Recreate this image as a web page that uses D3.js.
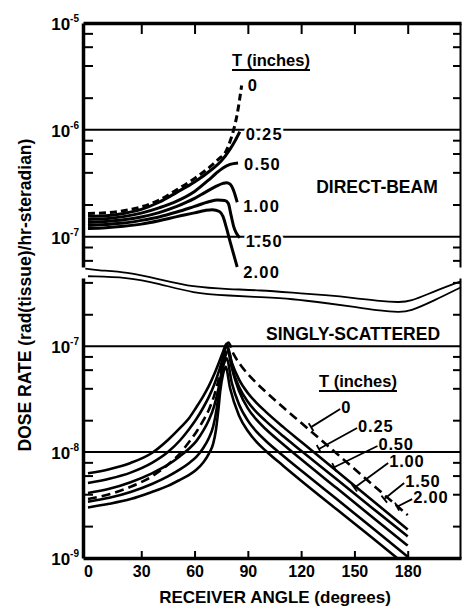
<!DOCTYPE html>
<html>
<head>
<meta charset="utf-8">
<script src="https://cdn.jsdelivr.net/npm/d3@7"></script>
<style>
  body { margin: 0; background: #fff; }
  svg { display: block; font-family: "Liberation Sans", Arial, sans-serif; font-weight: bold; }
</style>
</head>
<body>
<script>
// shield thicknesses, same order for both families of curves
const thickness = ["0", "0.25", "0.50", "1.00", "1.50", "2.00"];
const xTicks = [0, 30, 60, 90, 120, 150, 180];

// direct-beam dose rate, [receiver angle, rad/hr-sr]
const direct_0 = [[0, 1.65e-7], [10, 1.67e-7], [20, 1.75e-7], [30, 1.9e-7], [40, 2.2e-7], [50, 2.75e-7], [60, 3.5e-7], [70, 4.7e-7], [74, 5.4e-7], [77, 6.0e-7], [80, 7.8e-7], [82, 1.0e-6], [84, 1.4e-6], [86.5, 2.6e-6]];
const direct_025 = [[0, 1.55e-7], [10, 1.57e-7], [20, 1.65e-7], [30, 1.8e-7], [40, 2.1e-7], [50, 2.6e-7], [60, 3.25e-7], [70, 4.3e-7], [75, 5.1e-7], [80, 6.6e-7], [83, 8.0e-7], [85.5, 9.6e-7]];
const direct_050 = [[0, 1.45e-7], [10, 1.47e-7], [20, 1.54e-7], [30, 1.66e-7], [40, 1.86e-7], [50, 2.15e-7], [60, 2.65e-7], [68, 3.4e-7], [72, 3.9e-7], [76, 4.4e-7], [80, 4.75e-7], [84.5, 4.9e-7]];
const direct_100 = [[0, 1.36e-7], [10, 1.39e-7], [20, 1.44e-7], [30, 1.53e-7], [40, 1.68e-7], [50, 1.92e-7], [60, 2.28e-7], [66, 2.6e-7], [72, 2.95e-7], [76, 3.15e-7], [78, 3.2e-7], [80, 3.1e-7], [82, 2.7e-7], [84, 2.1e-7]];
const direct_150 = [[0, 1.27e-7], [10, 1.3e-7], [20, 1.34e-7], [30, 1.42e-7], [40, 1.53e-7], [50, 1.7e-7], [60, 1.92e-7], [68, 2.12e-7], [73, 2.2e-7], [77, 2.18e-7], [79, 2.05e-7], [80.5, 1.6e-7], [82, 1.25e-7], [85.5, 9.8e-8]];
const direct_200 = [[0, 1.19e-7], [10, 1.21e-7], [20, 1.25e-7], [30, 1.31e-7], [40, 1.41e-7], [50, 1.54e-7], [60, 1.67e-7], [66, 1.76e-7], [70, 1.79e-7], [74, 1.72e-7], [76, 1.55e-7], [78, 1.2e-7], [80, 9.0e-8], [84, 5.2e-8]];

// singly-scattered dose rate
const scatter_0 = [[0, 3.6e-9], [12, 4.0e-9], [24, 4.7e-9], [36, 5.9e-9], [45, 7.6e-9], [52, 9.8e-9], [57, 1.25e-8], [61, 1.55e-8], [65, 2.0e-8], [68, 2.5e-8], [71, 3.4e-8], [74, 5.2e-8], [76.5, 8.0e-8], [79, 1.08e-7], [82, 8.4e-8], [86, 6.6e-8], [90, 5.45e-8], [95, 4.46e-8], [100, 3.72e-8], [110, 2.63e-8], [120, 1.89e-8], [140, 9.7e-9], [160, 4.96e-9], [180, 2.54e-9]];
const scatter_025 = [[0, 6.3e-9], [12, 6.9e-9], [24, 7.9e-9], [36, 9.8e-9], [45, 1.3e-8], [52, 1.7e-8], [57, 2.1e-8], [61, 2.65e-8], [65, 3.4e-8], [68, 4.2e-8], [71, 5.4e-8], [74, 7.2e-8], [76, 8.8e-8], [78, 1.05e-7], [81, 6.98e-8], [85, 4.86e-8], [90, 3.61e-8], [95, 2.9e-8], [100, 2.41e-8], [110, 1.72e-8], [120, 1.25e-8], [140, 6.62e-9], [160, 3.51e-9], [180, 1.86e-9]];
const scatter_050 = [[0, 5.1e-9], [12, 5.6e-9], [24, 6.4e-9], [36, 7.9e-9], [45, 1.0e-8], [52, 1.3e-8], [57, 1.65e-8], [61, 2.05e-8], [65, 2.65e-8], [68, 3.3e-8], [71, 4.3e-8], [74, 6.0e-8], [76, 7.8e-8], [78, 1.0e-7], [81, 6.23e-8], [85, 4.14e-8], [90, 2.99e-8], [95, 2.37e-8], [100, 1.97e-8], [110, 1.41e-8], [120, 1.03e-8], [140, 5.54e-9], [160, 2.97e-9], [180, 1.6e-9]];
const scatter_100 = [[0, 4.1e-9], [12, 4.5e-9], [24, 5.2e-9], [36, 6.3e-9], [45, 7.6e-9], [52, 9.2e-9], [57, 1.08e-8], [61, 1.27e-8], [65, 1.6e-8], [68, 2.0e-8], [71, 2.7e-8], [73.5, 4.0e-8], [75.5, 6.0e-8], [77.5, 8.2e-8], [79, 9.0e-8], [82, 5.37e-8], [85, 3.8e-8], [90, 2.59e-8], [95, 2.01e-8], [100, 1.65e-8], [110, 1.18e-8], [120, 8.55e-9], [140, 4.57e-9], [160, 2.44e-9], [180, 1.31e-9]];
const scatter_150 = [[0, 3.4e-9], [12, 3.7e-9], [24, 4.2e-9], [36, 5.0e-9], [45, 5.9e-9], [52, 6.9e-9], [57, 7.9e-9], [61, 9.0e-9], [65, 1.1e-8], [68, 1.35e-8], [70.5, 1.75e-8], [72.5, 2.6e-8], [74, 4.0e-8], [75.5, 5.8e-8], [77, 7.2e-8], [78, 7.7e-8], [81, 4.48e-8], [85, 2.83e-8], [90, 1.98e-8], [95, 1.55e-8], [100, 1.28e-8], [110, 9.2e-9], [120, 6.7e-9], [140, 3.6e-9], [160, 1.93e-9], [180, 1.03e-9]];
const scatter_200 = [[0, 3.0e-9], [12, 3.25e-9], [24, 3.6e-9], [36, 4.2e-9], [45, 4.8e-9], [52, 5.5e-9], [57, 6.1e-9], [61, 6.8e-9], [65, 8.0e-9], [68, 9.6e-9], [70.5, 1.2e-8], [72, 1.6e-8], [73.5, 2.6e-8], [74.5, 3.8e-8], [76, 5.4e-8], [77.5, 6.4e-8], [80, 4.0e-8], [85, 2.22e-8], [90, 1.58e-8], [95, 1.24e-8], [100, 1.03e-8], [110, 7.4e-9], [120, 5.37e-9], [140, 2.88e-9], [160, 1.55e-9], [174, 1.0e-9]];

// the double line separating the two halves
const break_upper = [[-1.5, 5.4e-7], [5, 5.2e-7], [22, 5.0e-7], [40, 4.3e-7], [59, 3.6e-7], [80, 3.45e-7], [97, 3.37e-7], [115, 3.2e-7], [134, 3.03e-7], [150, 2.85e-7], [165, 2.65e-7], [175, 2.6e-7], [181, 2.62e-7], [195, 3.3e-7], [210, 4.1e-7]];
const break_lower = [[0, 4.57e-7], [22, 4.48e-7], [40, 3.9e-7], [59, 3.16e-7], [80, 3.0e-7], [97, 2.9e-7], [115, 2.8e-7], [134, 2.55e-7], [150, 2.35e-7], [165, 2.15e-7], [175, 2.09e-7], [181, 2.12e-7], [195, 2.7e-7], [210, 3.6e-7]];

// leader lines for the singly-scattered labels
const leaderFrom = [[142, 2.55e-8], [151.5, 1.69e-8], [163, 1.14e-8], [169, 7.9e-9], [178, 5.1e-9], [182.5, 3.6e-9]];
const leaderTo = [[125.6, 1.72e-8], [130, 1.07e-8], [138.6, 7.2e-9], [150, 4.6e-9], [166.8, 3.6e-9], [174, 3.05e-9]];

const topDecades = [1e-5, 1e-6, 1e-7];
const botDecades = [1e-7, 1e-8, 1e-9];
const topMinor = [8e-6, 6e-6, 4e-6, 2e-6, 8e-7, 6e-7, 4e-7, 2e-7, 8e-8, 6e-8];
const botMinor = [4e-7, 2e-7, 8e-8, 6e-8, 4e-8, 2e-8, 8e-9, 6e-9, 4e-9, 2e-9];

const directCurves = [direct_0, direct_025, direct_050, direct_100, direct_150, direct_200];
const scatterCurves = [scatter_0, scatter_025, scatter_050, scatter_100, scatter_150, scatter_200];

const WIDTH = 462;
const HEIGHT = 615;

const x = d3.scaleLinear().domain([-2.8, 210]).range([83, 461]);
const yTop = d3.scaleLog().domain([5.2e-8, 1e-5]).range([267, 23]);
const yBot = d3.scaleLog().domain([1e-9, 4.4e-7]).range([558, 278]);

const svg = d3.select("body").append("svg")
	.attr("width", WIDTH)
	.attr("height", HEIGHT);

svg.append("rect").attr("width", WIDTH).attr("height", HEIGHT).attr("fill", "#fff");

// decade grid lines
svg.append("g").selectAll("line")
	.data(topDecades.slice(1).map(yTop).concat(botDecades.slice(0, 2).map(yBot)))
	.join("line")
	.attr("x1", x.range()[0]).attr("x2", x.range()[1])
	.attr("y1", (d) => d).attr("y2", (d) => d)
	.attr("stroke", "#000").attr("stroke-width", 2);

// frame, using d3 axes
function styleAxis(g, w) {
	g.select(".domain").attr("stroke-width", w);
	g.selectAll(".tick line").attr("stroke-width", 2);
	g.selectAll(".tick text").remove();
}

svg.append("g").attr("transform", `translate(${x.range()[0]},0)`)
	.call(d3.axisLeft(yTop).tickValues(topMinor).tickSize(-10).tickSizeOuter(0))
	.call((g) => styleAxis(g, 3.5));
svg.append("g").attr("transform", `translate(${x.range()[0]},0)`)
	.call(d3.axisLeft(yBot).tickValues(botMinor).tickSize(-10).tickSizeOuter(0))
	.call((g) => styleAxis(g, 3.5));
svg.append("g").attr("transform", `translate(${x.range()[1] - 1},0)`)
	.call(d3.axisRight(yTop).tickValues(topMinor).tickSize(-7).tickSizeOuter(0))
	.call((g) => styleAxis(g, 2));
svg.append("g").attr("transform", `translate(${x.range()[1] - 1},0)`)
	.call(d3.axisRight(yBot).tickValues(botMinor).tickSize(-7).tickSizeOuter(0))
	.call((g) => styleAxis(g, 2));
svg.append("g").attr("transform", `translate(0,${yTop.range()[1]})`)
	.call(d3.axisTop(x).tickValues(xTicks.slice(1)).tickSize(-11).tickSizeOuter(0))
	.call((g) => styleAxis(g, 3.5));

const xAxis = svg.append("g").attr("transform", `translate(0,${yBot.range()[0]})`)
	.call(d3.axisBottom(x).tickValues(xTicks).tickSize(-7).tickSizeOuter(0));
xAxis.select(".domain").attr("stroke-width", 3.5);
xAxis.selectAll(".tick line").attr("stroke-width", 2).filter((d) => d === 0).remove();
xAxis.selectAll(".tick text")
	.attr("y", 8)
	.attr("dy", "0.71em")
	.attr("font-family", "Liberation Sans")
	.attr("font-weight", "bold")
	.attr("font-size", 16);

// decade labels 10^-n
function decadeLabels(vals, scale) {
	const t = svg.append("g").selectAll("text")
		.data(vals)
		.join("text")
		.attr("x", 79)
		.attr("y", (d) => scale(d) + 7)
		.attr("text-anchor", "end")
		.attr("font-size", 17);
	t.append("tspan").text("10");
	t.append("tspan")
		.attr("font-size", 10)
		.attr("dy", -8)
		.text((d) => "-" + Math.round(-Math.log10(d)));
}
decadeLabels(topDecades, yTop);
decadeLabels(botDecades, yBot);

// break band
const bandLine = d3.line().x((d) => x(d[0])).y((d) => yBot(d[1])).curve(d3.curveBasis);
[break_upper, break_lower].forEach((b) => {
	svg.append("path").attr("d", bandLine(b))
		.attr("fill", "none").attr("stroke", "#000").attr("stroke-width", 1.8);
});

// labels at the ends of the direct-beam curves (drawn first so curves stay on top)
const endDy = [6, 8, 7, 10, 9, 11];
svg.append("g").selectAll("text")
	.data(directCurves)
	.join("text")
	.attr("x", (d) => x(d[d.length - 1][0]) + 6)
	.attr("y", (d, i) => yTop(d[d.length - 1][1]) + endDy[i])
	.attr("font-size", 16.5)
	.attr("letter-spacing", 1.2)
	.attr("stroke", "#fff").attr("stroke-width", 5).attr("paint-order", "stroke")
	.text((d, i) => thickness[i]);

// direct-beam curves
const topLine = d3.line().x((d) => x(d[0])).y((d) => yTop(d[1])).curve(d3.curveMonotoneX);
svg.append("g").selectAll("path")
	.data(directCurves)
	.join("path")
	.attr("d", topLine)
	.attr("fill", "none")
	.attr("stroke", "#000")
	.attr("stroke-width", 3)
	.attr("stroke-dasharray", (d, i) => (i === 0 ? "7,4" : null));

// singly-scattered curves
svg.append("clipPath").attr("id", "clipBot")
	.append("rect")
	.attr("x", x.range()[0]).attr("y", yBot.range()[1])
	.attr("width", x.range()[1] - x.range()[0])
	.attr("height", yBot.range()[0] - yBot.range()[1]);

const botLine = d3.line().x((d) => x(d[0])).y((d) => yBot(d[1])).curve(d3.curveMonotoneX);
svg.append("g").attr("clip-path", "url(#clipBot)").selectAll("path")
	.data(scatterCurves)
	.join("path")
	.attr("d", botLine)
	.attr("fill", "none")
	.attr("stroke", "#000")
	.attr("stroke-width", 2.6)
	.attr("stroke-linejoin", "round")
	.attr("stroke-dasharray", (d, i) => (i === 0 ? "9,5" : null));

// leaders + labels for singly-scattered curves
const leaders = svg.append("g");
thickness.forEach((t, i) => {
	const x1 = x(leaderFrom[i][0]), y1 = yBot(leaderFrom[i][1]);
	const x2 = x(leaderTo[i][0]), y2 = yBot(leaderTo[i][1]);
	const len = Math.hypot(x2 - x1, y2 - y1);
	const nx = -(y2 - y1) / len * 4.5, ny = (x2 - x1) / len * 4.5;
	leaders.append("line")
		.attr("x1", x1).attr("y1", y1).attr("x2", x2).attr("y2", y2)
		.attr("stroke", "#000").attr("stroke-width", 1.8);
	leaders.append("line")
		.attr("x1", x2 - nx).attr("y1", y2 - ny).attr("x2", x2 + nx).attr("y2", y2 + ny)
		.attr("stroke", "#000").attr("stroke-width", 1.8);
	leaders.append("text")
		.attr("x", x1 + 1)
		.attr("y", y1 + 4)
		.attr("font-size", 16.5)
		.attr("letter-spacing", 0.8)
		.text(t);
});

// titles
function underlined(cx, by, txt) {
	const t = svg.append("text")
		.attr("x", cx).attr("y", by)
		.attr("text-anchor", "middle")
		.attr("font-size", 16.5)
		.text(txt);
	const bb = t.node().getBBox();
	svg.append("line")
		.attr("x1", bb.x).attr("x2", bb.x + bb.width)
		.attr("y1", by + 4).attr("y2", by + 4)
		.attr("stroke", "#000").attr("stroke-width", 1.8);
}
underlined(271, 66, "T (inches)");
underlined(358, 387, "T (inches)");

svg.append("text").attr("x", 377).attr("y", 193)
	.attr("text-anchor", "middle").attr("font-size", 17.5)
	.text("DIRECT-BEAM");
svg.append("text").attr("x", 353).attr("y", 340)
	.attr("text-anchor", "middle").attr("font-size", 17.5)
	.text("SINGLY-SCATTERED");

svg.append("text")
	.attr("x", 275).attr("y", 603)
	.attr("text-anchor", "middle").attr("font-size", 17)
	.text("RECEIVER ANGLE (degrees)");

svg.append("text")
	.attr("transform", "translate(31,295) rotate(-90)")
	.attr("text-anchor", "middle").attr("font-size", 17.5)
	.text("DOSE RATE (rad(tissue)/hr-steradian)");
</script>
</body>
</html>
